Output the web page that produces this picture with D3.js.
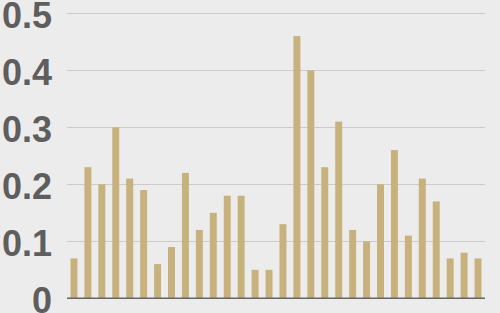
<!DOCTYPE html>
<html>
<head>
<meta charset="utf-8">
<script src="https://cdn.jsdelivr.net/npm/d3@7"></script>
<style>
  body { margin: 0; background: #ececec; }
  svg { display: block; }
</style>
</head>
<body>
<svg></svg>
<script>
var width = 500,
    height = 313,
    margin = { top: 13.3, right: 15, bottom: 14.7, left: 67 };

// values, one per bar
var values = [0.07, 0.23, 0.20, 0.30, 0.21, 0.19, 0.06, 0.09, 0.22, 0.12,
              0.15, 0.18, 0.18, 0.05, 0.05, 0.13, 0.46, 0.40, 0.23, 0.31,
              0.12, 0.10, 0.20, 0.26, 0.11, 0.21, 0.17, 0.07, 0.08, 0.07];
var categories = values.map((d, i) => i + 1);
var yTicks = [0, 0.1, 0.2, 0.3, 0.4, 0.5];
var yTickLabels = ["0", "0.1", "0.2", "0.3", "0.4", "0.5"];

var svg = d3.select("svg")
    .attr("width", width)
    .attr("height", height);

svg.append("rect")
    .attr("width", width)
    .attr("height", height)
    .attr("fill", "#ececec");

var x = d3.scaleBand()
    .domain(categories)
    .range([margin.left, width - margin.right])
    .paddingInner(0.5)
    .paddingOuter(0.25);

var y = d3.scaleLinear()
    .domain([0, 0.5])
    .range([height - margin.bottom, margin.top]);

// gridlines
svg.append("g")
    .selectAll("line")
    .data(yTicks.slice(1))
    .enter().append("line")
    .attr("x1", margin.left)
    .attr("x2", width - margin.right)
    .attr("y1", d => Math.round(y(d)) + 0.5)
    .attr("y2", d => Math.round(y(d)) + 0.5)
    .attr("stroke", "#cbcbcb")
    .attr("stroke-width", 1);

// tick labels
svg.append("g")
    .selectAll("text")
    .data(yTicks)
    .enter().append("text")
    .attr("x", 52)
    .attr("y", d => y(d))
    .attr("dy", 14.5)
    .attr("text-anchor", "end")
    .attr("font-family", "Liberation Sans, Arial, sans-serif")
    .attr("font-weight", "bold")
    .attr("font-size", 36)
    .attr("fill", "#5e5e5e")
    .text((d, i) => yTickLabels[i]);

// bars
svg.append("g")
    .selectAll("rect")
    .data(values)
    .enter().append("rect")
    .attr("x", (d, i) => x(categories[i]))
    .attr("width", x.bandwidth())
    .attr("y", d => y(d))
    .attr("height", d => y(0) - y(d))
    .attr("fill", "#c7b27e");

// baseline
svg.append("line")
    .attr("x1", margin.left)
    .attr("x2", width - margin.right)
    .attr("y1", y(0))
    .attr("y2", y(0))
    .attr("stroke", "#666")
    .attr("stroke-width", 1.5);
</script>
</body>
</html>
